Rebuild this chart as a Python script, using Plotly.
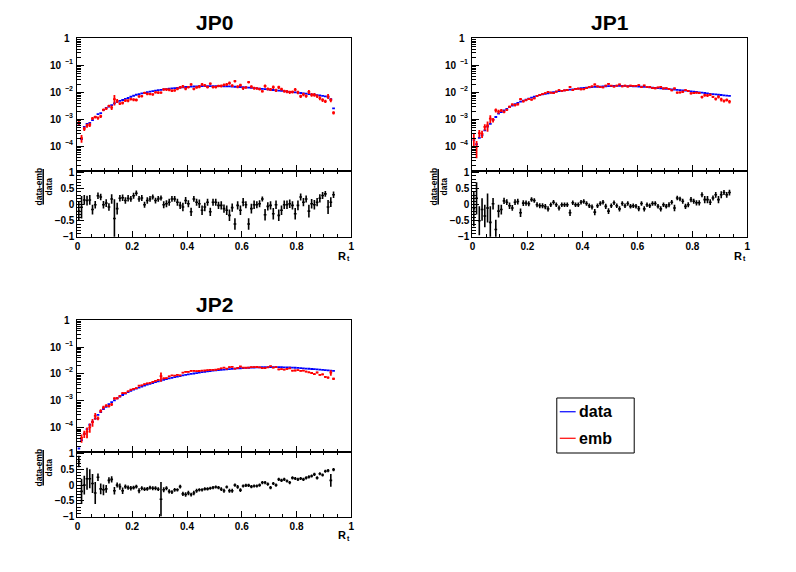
import numpy as np
import plotly.graph_objects as go

W, H = 796, 572

# ---------------- data ----------------
# bins of width 0.01 from 0 to 0.94 (centres)
bin_centres = np.round(np.arange(94) * 0.01 + 0.005, 4)
bin_half = 0.005

# "data" distribution (units of 1e-3)
jp0_data_e3 = [0.65, 0.19, 0.54, 0.69, 0.76, 0.96, 1.25, 1.6, 1.75, 2.3,
               2.7, 3.0, 3.4, 4.0, 4.4, 4.9, 5.3, 5.8, 6.3, 7.0,
               7.6, 8.3, 8.8, 9.3, 9.8, 10.3, 10.8, 11.3, 11.7, 12.2,
               12.6, 13.0, 13.4, 13.8, 14.2, 14.6, 15.0, 15.3, 15.7, 16.0,
               16.3, 16.5, 16.7, 16.9, 17.1, 17.2, 17.3, 17.4, 17.4, 17.4,
               17.4, 17.3, 17.2, 17.1, 17.0, 16.8, 16.6, 16.4, 16.2, 16.0,
               15.7, 15.4, 15.1, 14.8, 14.5, 14.2, 13.9, 13.6, 13.3, 13.0,
               12.7, 12.4, 12.1, 11.8, 11.5, 11.2, 10.9, 10.6, 10.4, 10.1,
               9.9, 9.6, 9.3, 9.1, 8.8, 8.5, 8.3, 8.0, 7.8, 7.5,
               7.2, 6.8, 5.7, 2.6]
jp1_data_e3 = [0.175, 0.125, 0.21, 0.26, 0.40, 0.55, 0.70, 1.0, 1.25, 1.65,
               1.9, 2.2, 2.5, 2.9, 3.3, 3.7, 4.1, 4.6, 5.0, 5.5,
               6.0, 6.5, 7.0, 7.5, 8.0, 8.5, 9.0, 9.4, 9.9, 10.3,
               10.8, 11.2, 11.6, 12.0, 12.4, 12.8, 13.2, 13.6, 14.0, 14.4,
               14.8, 15.1, 15.5, 15.8, 16.1, 16.4, 16.6, 16.9, 17.1, 17.3,
               17.4, 17.5, 17.6, 17.6, 17.6, 17.5, 17.4, 17.3, 17.1, 16.9,
               16.7, 16.5, 16.2, 15.9, 15.6, 15.3, 15.0, 14.7, 14.4, 14.1,
               13.8, 13.5, 13.2, 12.9, 12.6, 12.3, 12.0, 11.7, 11.4, 11.1,
               10.8, 10.5, 10.2, 9.9, 9.6, 9.3, 9.0, 8.8, 8.5, 8.3,
               8.1, 7.9, 7.7, 7.5]
jp2_data_e3 = [0.017, 0.035, 0.06, 0.09, 0.13, 0.17, 0.22, 0.3, 0.38, 0.5,
               0.6, 0.75, 0.9, 1.05, 1.25, 1.45, 1.65, 1.85, 2.1, 2.35,
               2.6, 2.85, 3.1, 3.4, 3.7, 4.0, 4.3, 4.6, 5.0, 5.3,
               5.7, 6.0, 6.4, 6.8, 7.2, 7.6, 8.0, 8.4, 8.8, 9.2,
               9.6, 10.0, 10.4, 10.8, 11.2, 11.6, 12.0, 12.4, 12.8, 13.2,
               13.5, 13.9, 14.2, 14.5, 14.8, 15.1, 15.4, 15.7, 16.0, 16.3,
               16.6, 16.8, 17.0, 17.2, 17.4, 17.6, 17.7, 17.8, 17.9, 18.0,
               18.0, 18.0, 18.0, 17.9, 17.8, 17.7, 17.6, 17.4, 17.2, 17.0,
               16.8, 16.5, 16.2, 15.9, 15.6, 15.3, 15.0, 14.7, 14.4, 14.1,
               13.8, 13.5, 13.2, 13.0]

# (data-emb)/data and its error
jp0_ratio = [-0.2, -0.08, 0.15, 0.13, 0.15, -0.15, 0.0, 0.28, 0.24, 0.0,
             0.05, -0.07, 0.18, -0.43, -0.12, 0.2, 0.22, 0.13, 0.2, 0.18,
             0.28, 0.36, 0.18, 0.21, 0.0, 0.13, 0.18, 0.24, 0.13, 0.18,
             0.21, 0.0, 0.03, 0.08, 0.18, 0.18, 0.08, -0.02, -0.07, 0.13,
             0.03, -0.22, 0.18, 0.08, 0.03, -0.17, -0.07, 0.08, -0.22, 0.08,
             0.08, -0.02, -0.02, -0.12, -0.17, -0.33, -0.09, -0.6, -0.02, -0.17,
             0.08, 0.0, -0.6, -0.12, 0.0, 0.0, 0.03, 0.18, -0.31, -0.05,
             -0.02, -0.28, 0.0, -0.33, -0.17, 0.0, 0.0, 0.03, -0.02, -0.28,
             -0.02, 0.24, 0.08, 0.18, -0.2, 0.03, 0.0, 0.08, 0.2, 0.29,
             0.34, -0.07, 0.08, 0.31]
jp0_ratio_err = [0.3, 0.35, 0.15, 0.15, 0.15, 0.15, 0.12, 0.1, 0.1, 0.12,
                 0.12, 0.12, 0.15, 0.6, 0.18, 0.1, 0.1, 0.1, 0.1, 0.09,
                 0.09, 0.08, 0.09, 0.09, 0.09, 0.1, 0.09, 0.08, 0.09, 0.09,
                 0.08, 0.11, 0.11, 0.11, 0.09, 0.09, 0.11, 0.11, 0.13, 0.11,
                 0.11, 0.13, 0.09, 0.11, 0.13, 0.15, 0.13, 0.11, 0.13, 0.11,
                 0.11, 0.11, 0.13, 0.13, 0.15, 0.18, 0.13, 0.18, 0.13, 0.15,
                 0.13, 0.11, 0.18, 0.15, 0.13, 0.11, 0.11, 0.08, 0.18, 0.13,
                 0.13, 0.18, 0.13, 0.18, 0.15, 0.13, 0.13, 0.13, 0.13, 0.18,
                 0.15, 0.11, 0.13, 0.11, 0.2, 0.15, 0.15, 0.13, 0.13, 0.11,
                 0.09, 0.22, 0.15, 0.1]
jp1_ratio = [-0.12, 0.2, -0.5, -0.15, -0.35, -0.1, -0.55, 0.03, -0.77, -0.2,
             -0.15, 0.12, 0.08, -0.03, -0.1, 0.08, 0.1, -0.25, 0.05, 0.05,
             0.03, 0.16, 0.13, 0.0, -0.03, -0.03, -0.06, -0.13, 0.0, 0.08,
             0.0, -0.1, 0.0, 0.0, 0.0, -0.25, 0.06, 0.0, 0.0, 0.08,
             0.1, 0.04, -0.03, -0.07, -0.23, -0.03, 0.04, 0.08, -0.05, -0.2,
             -0.03, 0.06, -0.03, -0.13, 0.04, -0.03, 0.04, -0.05, -0.03, -0.05,
             -0.12, 0.04, -0.13, 0.0, -0.03, 0.04, 0.04, -0.05, -0.13, 0.0,
             -0.05, 0.0, 0.08, -0.1, 0.21, 0.18, 0.11, -0.05, 0.0, 0.16,
             0.11, 0.06, 0.06, 0.31, 0.16, 0.16, 0.08, 0.21, 0.31, 0.16,
             0.31, 0.38, 0.31, 0.38]
jp1_ratio_err = [0.55, 0.5, 0.45, 0.35, 0.35, 0.45, 0.5, 0.18, 0.3, 0.2,
                 0.15, 0.1, 0.09, 0.1, 0.09, 0.09, 0.09, 0.13, 0.09, 0.08,
                 0.08, 0.07, 0.07, 0.08, 0.08, 0.08, 0.08, 0.08, 0.07, 0.07,
                 0.07, 0.08, 0.07, 0.07, 0.07, 0.1, 0.07, 0.07, 0.07, 0.07,
                 0.07, 0.07, 0.07, 0.08, 0.1, 0.07, 0.07, 0.07, 0.08, 0.09,
                 0.07, 0.07, 0.07, 0.08, 0.07, 0.07, 0.07, 0.07, 0.07, 0.07,
                 0.08, 0.07, 0.08, 0.07, 0.07, 0.07, 0.07, 0.07, 0.08, 0.07,
                 0.07, 0.08, 0.07, 0.1, 0.07, 0.07, 0.08, 0.08, 0.08, 0.08,
                 0.08, 0.08, 0.08, 0.08, 0.11, 0.11, 0.09, 0.08, 0.09, 0.11,
                 0.11, 0.08, 0.09, 0.09]
jp2_ratio = [0.75, -0.2, 0.0, 0.2, 0.2, 0.05, -0.25, 0.25, -0.12, -0.15,
             -0.12, 0.15, 0.18, -0.18, 0.0, -0.05, -0.18, -0.05, -0.08, -0.1,
             -0.08, -0.05, -0.18, -0.1, -0.13, -0.12, -0.08, -0.1, -0.1, -0.13,
             -0.45, -0.15, -0.1, -0.2, -0.22, -0.15, -0.15, -0.05, -0.28, -0.3,
             -0.25, -0.3, -0.25, -0.18, -0.15, -0.15, -0.12, -0.12, -0.1,
             -0.08, -0.06, -0.08, -0.13, -0.18, -0.06, -0.18, -0.18, 0.0, -0.06,
             -0.16, -0.03, -0.01, -0.01, -0.05, -0.03, -0.03, 0.0, 0.08, 0.08,
             0.03, -0.08, 0.05, 0.0, 0.18, 0.15, 0.18, 0.13, 0.08, 0.23,
             0.21, 0.18, 0.21, 0.18, 0.23, 0.26, 0.29, 0.34, 0.23, 0.36,
             0.32, 0.44, 0.46, 0.15, 0.49]
jp2_ratio_err = [0.18, 0.4, 0.3, 0.35, 0.3, 0.3, 0.35, 0.12, 0.17, 0.17,
                 0.12, 0.1, 0.1, 0.12, 0.08, 0.1, 0.1, 0.07, 0.07, 0.07,
                 0.06, 0.06, 0.08, 0.06, 0.06, 0.06, 0.06, 0.06, 0.06, 0.06,
                 0.55, 0.08, 0.06, 0.07, 0.06, 0.06, 0.05, 0.06, 0.07, 0.07,
                 0.07, 0.06, 0.07, 0.06, 0.05, 0.05, 0.05, 0.05, 0.05, 0.05,
                 0.05, 0.05, 0.06, 0.06, 0.05, 0.06, 0.06, 0.05, 0.06, 0.06,
                 0.05, 0.05, 0.05, 0.05, 0.05, 0.05, 0.05, 0.05, 0.05, 0.05,
                 0.05, 0.05, 0.05, 0.05, 0.05, 0.05, 0.05, 0.05, 0.05, 0.05,
                 0.05, 0.05, 0.05, 0.05, 0.05, 0.05, 0.05, 0.05, 0.05, 0.05,
                 0.05, 0.05, 0.2, 0.05]

panel_names = ["JP0", "JP1", "JP2"]
x_tick_vals = [0, 0.2, 0.4, 0.6, 0.8, 1]
x_tick_text = ["0", "0.2", "0.4", "0.6", "0.8", "1"]
# log-axis tick labels: (value, mantissa text, exponent text)
log_ticks = [(1, "1", ""), (0.1, "10", "\u22121"), (0.01, "10", "\u22122"),
             (0.001, "10", "\u22123"), (0.0001, "10", "\u22124")]
ratio_tick_vals = [-1, -0.5, 0, 0.5, 1]
ratio_tick_text = ["\u22121", "\u22120.5", "0", "0.5", "1"]

datasets = [
    (jp0_data_e3, jp0_ratio, jp0_ratio_err),
    (jp1_data_e3, jp1_ratio, jp1_ratio_err),
    (jp2_data_e3, jp2_ratio, jp2_ratio_err),
]

# ---------------- layout geometry (pixels) ----------------
geom = [
    dict(x0=75, x1=351, top=35, mid=170, bot=237),
    dict(x0=473, x1=750, top=35, mid=170, bot=237),
    dict(x0=75, x1=351, top=321.7, mid=456, bot=521.7),
]


def px(x):
    return x / W


def py(y):
    return 1 - y / H


FONT = "Liberation Sans, Arial, Helvetica, sans-serif"
tickfont = dict(family=FONT, size=10, color="black", weight="bold")

fig = go.Figure()
layout = {}
annotations = []
shapes = []

minor_log_vals = [k * 10.0 ** e for e in range(-5, 0) for k in range(2, 10)]

for i, (name, g, (d_e3, ratio, rerr)) in enumerate(zip(panel_names, geom, datasets)):
    nu = 2 * i + 1
    nl = 2 * i + 2
    xu, yu = f"x{nu}", f"y{nu}"
    xl, yl = f"x{nl}", f"y{nl}"
    d = np.array(d_e3) * 1e-3
    r = np.array(ratio)
    re = np.array(rerr)
    emb = d * (1 - r)          # ratio = (data-emb)/data
    emb_err = d * re

    # data (blue)
    fig.add_trace(go.Scatter(
        x=bin_centres, y=d, mode="markers", xaxis=xu, yaxis=yu,
        marker=dict(size=0.1, color="blue", opacity=0),
        error_x=dict(type="constant", value=bin_half, color="blue", thickness=1.8, width=0),
        showlegend=False, hoverinfo="skip"))
    # emb (red)
    fig.add_trace(go.Scatter(
        x=bin_centres, y=emb, mode="markers", xaxis=xu, yaxis=yu,
        marker=dict(size=0.1, color="red", opacity=0),
        error_x=dict(type="constant", value=bin_half, color="red", thickness=1.8, width=0),
        error_y=dict(type="data", array=emb_err, color="red", thickness=1.8, width=0),
        showlegend=False, hoverinfo="skip"))
    # ratio (black)
    fig.add_trace(go.Scatter(
        x=bin_centres, y=r, mode="markers", xaxis=xl, yaxis=yl,
        marker=dict(size=0.1, color="black", opacity=0),
        error_x=dict(type="constant", value=bin_half, color="black", thickness=1.6, width=0),
        error_y=dict(type="data", array=re, color="black", thickness=1.6, width=0),
        showlegend=False, hoverinfo="skip"))

    xdom = [px(g["x0"]), px(g["x1"])]
    common_axis = dict(showgrid=False, zeroline=False, showline=True, linecolor="black",
                       linewidth=1, tickcolor="black", tickfont=tickfont)
    layout[f"xaxis{nu}"] = dict(
        common_axis, domain=xdom, range=[0, 1], anchor=yu, showticklabels=False,
        ticks="inside", ticklen=6, tickvals=x_tick_vals, mirror=True,
        minor=dict(ticks="inside", ticklen=3, dtick=0.05, tick0=0, tickcolor="black"))
    layout[f"yaxis{nu}"] = dict(
        common_axis, domain=[py(g["mid"]), py(g["top"])], type="log", range=[-4.9, 0.001],
        anchor=xu, ticks="inside", ticklen=7, tickvals=[t[0] for t in log_ticks],
        showticklabels=False, mirror=True,
        minor=dict(ticks="inside", ticklen=4, tickvals=minor_log_vals, tickcolor="black"))
    layout[f"xaxis{nl}"] = dict(
        common_axis, domain=xdom, range=[0, 1], anchor=yl,
        ticks="inside", ticklen=6, tickvals=x_tick_vals, ticktext=x_tick_text,
        mirror="ticks",
        minor=dict(ticks="inside", ticklen=3, dtick=0.05, tick0=0, tickcolor="black"))
    layout[f"yaxis{nl}"] = dict(
        common_axis, domain=[py(g["bot"]), py(g["mid"])], range=[-1, 1.05],
        anchor=xl, ticks="inside", ticklen=7, tickvals=ratio_tick_vals,
        ticktext=ratio_tick_text, mirror=True,
        minor=dict(ticks="inside", ticklen=4, dtick=0.1, tick0=0, tickcolor="black"))

    # log tick labels as mantissa + raised exponent (placed on the axis scale)
    for val, mant, expo in log_ticks:
        yv = float(np.log10(val))
        if expo:
            annotations.append(dict(
                text=f"<b>{mant}</b>", x=px(g["x0"] - 14), y=yv, xref="paper", yref=yu,
                showarrow=False, xanchor="right", yanchor="middle",
                font=dict(family=FONT, size=10, color="black")))
            annotations.append(dict(
                text=f"<b>{expo}</b>", x=px(g["x0"] - 14.5), y=yv, yshift=4,
                xref="paper", yref=yu, showarrow=False, xanchor="left", yanchor="middle",
                font=dict(family=FONT, size=7, color="black")))
        else:
            annotations.append(dict(
                text=f"<b>{mant}</b>", x=px(g["x0"] - 5), y=yv, xref="paper", yref=yu,
                showarrow=False, xanchor="right", yanchor="middle",
                font=dict(family=FONT, size=10, color="black")))

    # title
    annotations.append(dict(
        text=f"<b>{name}</b>", x=px((g["x0"] + g["x1"]) / 2), y=py(g["top"] - 16),
        xref="paper", yref="paper", showarrow=False, xanchor="center", yanchor="middle",
        font=dict(family=FONT, size=21, color="black")))
    # x axis label R_t
    annotations.append(dict(
        text="<b>R</b>", x=px(g["x1"] - 3), y=py(g["bot"] + 19),
        xref="paper", yref="paper", showarrow=False, xanchor="right", yanchor="middle",
        font=dict(family=FONT, size=11, color="black")))
    annotations.append(dict(
        text="<b>t</b>", x=px(g["x1"] - 6.5), y=py(g["bot"] + 22),
        xref="paper", yref="paper", showarrow=False, xanchor="left", yanchor="middle",
        font=dict(family=FONT, size=7, color="black")))
    # y axis label of the ratio pad: fraction
    lx = g["x0"] - 75 + 40.5
    ly = g["mid"] + 16
    annotations.append(dict(
        text="<b>data-emb</b>", x=px(lx - 4.5), y=py(ly), xref="paper", yref="paper",
        showarrow=False, textangle=-90, xanchor="center", yanchor="middle",
        font=dict(family=FONT, size=8.5, color="black")))
    annotations.append(dict(
        text="<b>data</b>", x=px(lx + 5.5), y=py(ly), xref="paper", yref="paper",
        showarrow=False, textangle=-90, xanchor="center", yanchor="middle",
        font=dict(family=FONT, size=8.5, color="black")))
    shapes.append(dict(type="line", xref="paper", yref="paper",
                       x0=px(lx), x1=px(lx), y0=py(ly - 18), y1=py(ly + 18),
                       line=dict(color="black", width=1.5)))

# legend box
legend_entries = [("data", "blue"), ("emb", "red")]
shapes.append(dict(type="rect", xref="paper", yref="paper",
                   x0=px(558), x1=px(636), y0=py(457), y1=py(401),
                   line=dict(color="black", width=1), fillcolor="white"))
for k, (lab, col) in enumerate(legend_entries):
    yy = 415 + 27 * k
    shapes.append(dict(type="line", xref="paper", yref="paper",
                       x0=px(561), x1=px(577), y0=py(yy), y1=py(yy),
                       line=dict(color=col, width=1.2)))
    annotations.append(dict(
        text=f"<b>{lab}</b>", x=px(578), y=py(yy), xref="paper", yref="paper",
        showarrow=False, xanchor="left", yanchor="middle",
        font=dict(family=FONT, size=16, color="black")))

fig.update_layout(
    width=W, height=H, margin=dict(l=0, r=0, t=0, b=0),
    paper_bgcolor="white", plot_bgcolor="white",
    showlegend=False, annotations=annotations, shapes=shapes, **layout)

fig.write_html("out.html")
